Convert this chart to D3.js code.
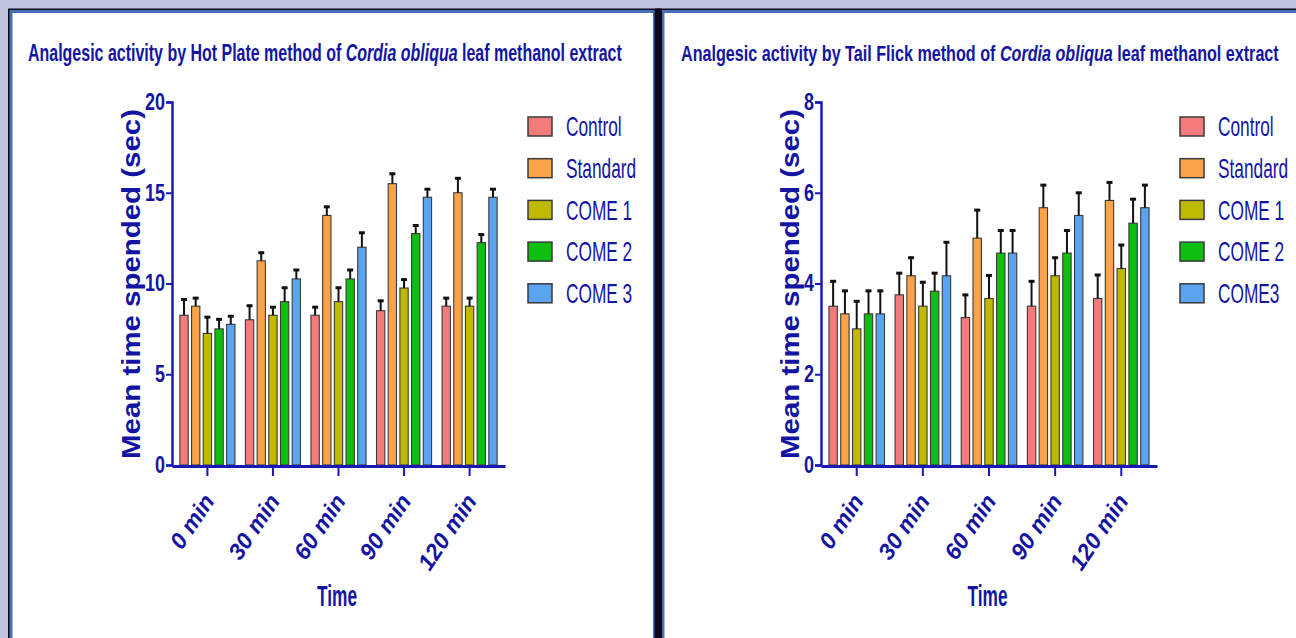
<!DOCTYPE html>
<html>
<head>
<meta charset="utf-8">
<script src="https://cdn.jsdelivr.net/npm/d3@7"></script>
<style>
  body { margin: 0; background: #c0c3de; }
  svg { display: block; }
</style>
</head>
<body>
<div id="chart"></div>
<script>
// Data
var groups = ['0 min', '30 min', '60 min', '90 min', '120 min'];
var hotSeries = ['Control', 'Standard', 'COME 1', 'COME 2', 'COME 3'];
var tailSeries = ['Control', 'Standard', 'COME 1', 'COME 2', 'COME3'];
var seriesColors = ['#f47b7b', '#fba346', '#bfba00', '#0fbf0f', '#5ba4f2'];

// rows = series, columns = groups
var hotMeans = [
  [8.25, 8.0, 8.25, 8.5, 8.75],
  [8.75, 11.25, 13.75, 15.5, 15.0],
  [7.25, 8.25, 9.0, 9.75, 8.75],
  [7.5, 9.0, 10.25, 12.75, 12.25],
  [7.75, 10.25, 12.0, 14.75, 14.75]
];
var hotErrors = [
  [0.92, 0.83, 0.5, 0.6, 0.5],
  [0.5, 0.5, 0.53, 0.6, 0.85],
  [0.95, 0.5, 0.82, 0.52, 0.5],
  [0.58, 0.82, 0.55, 0.5, 0.5],
  [0.5, 0.55, 0.85, 0.5, 0.5]
];
var hotTicks = [0, 5, 10, 15, 20];

var tailMeans = [
  [3.5, 3.75, 3.25, 3.5, 3.67],
  [3.33, 4.17, 5.0, 5.67, 5.83],
  [3.0, 3.5, 3.67, 4.17, 4.33],
  [3.33, 3.83, 4.67, 4.67, 5.33],
  [3.33, 4.17, 4.67, 5.5, 5.67]
];
var tailErrors = [
  [0.57, 0.5, 0.52, 0.57, 0.54],
  [0.53, 0.42, 0.64, 0.52, 0.42],
  [0.63, 0.55, 0.53, 0.42, 0.54],
  [0.53, 0.42, 0.52, 0.52, 0.55],
  [0.53, 0.76, 0.52, 0.52, 0.52]
];
var tailTicks = [0, 2, 4, 6, 8];

var W = 1296, H = 638;
var textColor = '#1414a2';
var axisColor = '#1818b2';
var font = '"Liberation Sans", Arial, sans-serif';

var svg = d3.select('#chart').append('svg')
  .attr('width', W)
  .attr('height', H)
  .style('font-family', font);

// squeeze text along its own direction, about its anchor point (the picture is stretched)
function squeeze(sel, f) {
  sel.each(function() {
    var t = d3.select(this);
    var x = +t.attr('x') || 0;
    var tr = t.attr('transform') || '';
    t.attr('transform', tr + ' translate(' + x + ',0) scale(' + f + ',1) translate(' + (-x) + ',0)');
  });
}
function fit(sel, w) {
  sel.each(function() {
    squeeze(d3.select(this), w / this.getComputedTextLength());
  });
}

// Frames
svg.append('rect').attr('width', W).attr('height', H).attr('fill', '#c0c3de');
svg.append('rect').attr('x', 8).attr('y', 8.5).attr('width', W).attr('height', H).attr('fill', '#0a0a1a');
svg.append('rect').attr('x', 9.5).attr('y', 10).attr('width', 645).attr('height', H).attr('fill', '#4670b4');
svg.append('rect').attr('x', 12.5).attr('y', 13).attr('width', 640.5).attr('height', H).attr('fill', '#fff');
svg.append('rect').attr('x', 662).attr('y', 10).attr('width', W).attr('height', H).attr('fill', '#4670b4');
svg.append('rect').attr('x', 664.5).attr('y', 13).attr('width', W).attr('height', H).attr('fill', '#fff');

var panels = [
  { method: 'Hot Plate', series: hotSeries, means: hotMeans, errs: hotErrors, ticks: hotTicks,
    left: 172, right: 505, titleX: 28, titleW: 594, legendX: 528, yLabelX: 140 },
  { method: 'Tail Flick', series: tailSeries, means: tailMeans, errs: tailErrors, ticks: tailTicks,
    left: 821, right: 1157, titleX: 681, titleW: 598, legendX: 1180, yLabelX: 799 }
];

var plotTop = 102, plotBottom = 465;

panels.forEach(function(p) {
  var g = svg.append('g');

  // Title
  var title = g.append('text')
    .attr('x', p.titleX)
    .attr('y', 61)
    .attr('fill', textColor)
    .attr('font-weight', 'bold')
    .attr('font-size', 23);
  title.append('tspan').text('Analgesic activity by ' + p.method + ' method of ');
  title.append('tspan').attr('font-style', 'italic').text('Cordia obliqua');
  title.append('tspan').text(' leaf methanol extract');
  fit(title, p.titleW);

  // Scales
  var x0 = d3.scaleBand().domain(groups).range([p.left, p.right]).paddingInner(0.16).paddingOuter(0.12);
  var x1 = d3.scaleBand().domain(d3.range(p.series.length)).range([0, x0.bandwidth()]).paddingInner(0.29);
  var y = d3.scaleLinear().domain([0, p.ticks[p.ticks.length - 1]]).range([plotBottom, plotTop]);

  // Bars
  var cells = [];
  p.means.forEach(function(row, s) {
    row.forEach(function(v, i) {
      cells.push({ s: s, group: groups[i], value: v, err: p.errs[s][i] });
    });
  });

  g.append('g').selectAll('rect')
    .data(cells)
    .join('rect')
      .attr('x', d => x0(d.group) + x1(d.s))
      .attr('y', d => y(d.value))
      .attr('width', x1.bandwidth())
      .attr('height', d => y(0) - y(d.value))
      .attr('fill', d => seriesColors[d.s])
      .attr('stroke', '#3a3a3a')
      .attr('stroke-width', 1.1);

  // Error bars
  var eb = g.append('g').selectAll('g')
    .data(cells)
    .join('g')
      .attr('transform', d => 'translate(' + (x0(d.group) + x1(d.s) + x1.bandwidth() / 2) + ',0)');
  eb.append('line')
    .attr('y1', d => y(d.value))
    .attr('y2', d => y(d.value + d.err))
    .attr('stroke', '#111')
    .attr('stroke-width', 2);
  eb.append('line')
    .attr('x1', -3).attr('x2', 3)
    .attr('y1', d => y(d.value + d.err) + 1)
    .attr('y2', d => y(d.value + d.err) + 1)
    .attr('stroke', '#111')
    .attr('stroke-width', 3);

  // Y axis
  var yAxis = g.append('g')
    .attr('transform', 'translate(' + p.left + ',0)')
    .call(d3.axisLeft(y).tickValues(p.ticks).tickSize(6).tickSizeOuter(6).tickPadding(1));
  yAxis.select('.domain').attr('stroke', axisColor).attr('stroke-width', 2.5);
  yAxis.selectAll('.tick line').attr('stroke', axisColor).attr('stroke-width', 2);
  yAxis.selectAll('.tick text')
    .attr('fill', textColor)
    .attr('font-size', 23)
    .attr('font-weight', 'bold')
    .attr('font-family', font)
    .call(squeeze, 0.78);

  // X axis
  var xAxis = g.append('g')
    .attr('transform', 'translate(0,' + (plotBottom + 1) + ')')
    .call(d3.axisBottom(x0).tickSize(10).tickSizeOuter(0));
  xAxis.select('.domain').attr('stroke', axisColor).attr('stroke-width', 3);
  xAxis.selectAll('.tick line').attr('stroke', axisColor).attr('stroke-width', 2);
  xAxis.selectAll('.tick text').remove();
  xAxis.selectAll('.tick').append('text')
    .attr('transform', 'translate(8,35) rotate(-56)')
    .attr('text-anchor', 'end')
    .attr('fill', textColor)
    .attr('font-size', 23)
    .attr('font-weight', 'bold')
    .attr('font-style', 'italic')
    .attr('font-family', font)
    .text(d => d);

  // Axis titles
  g.append('text')
    .attr('x', (p.left + p.right) / 2 - 1.5)
    .attr('y', 606)
    .attr('text-anchor', 'middle')
    .attr('fill', textColor)
    .attr('font-size', 29)
    .attr('font-weight', 'bold')
    .text('Time')
    .call(fit, 40);

  g.append('text')
    .attr('transform', 'translate(' + p.yLabelX + ',' + 284 + ') rotate(-90)')
    .attr('text-anchor', 'middle')
    .attr('fill', textColor)
    .attr('font-size', 25)
    .attr('font-weight', 'bold')
    .text('Mean time spended (sec)')
    .call(fit, 350);

  // Legend
  var leg = g.append('g').selectAll('g')
    .data(p.series)
    .join('g')
      .attr('transform', (d, i) => 'translate(' + p.legendX + ',' + (126.5 + i * 41.7) + ')');
  leg.append('rect')
    .attr('x', 0).attr('y', -9.5)
    .attr('width', 24).attr('height', 19)
    .attr('fill', (d, i) => seriesColors[i])
    .attr('stroke', '#3a3a3a')
    .attr('stroke-width', 1.5);
  leg.append('text')
    .attr('x', 38)
    .attr('dy', '0.36em')
    .attr('fill', textColor)
    .attr('font-size', 27)
    .text(d => d)
    .call(squeeze, 0.64);
});

// black divider between the two panels
svg.append('rect').attr('x', 655).attr('y', 8.5).attr('width', 7).attr('height', H).attr('fill', '#0a0a1a');
</script>
</body>
</html>
